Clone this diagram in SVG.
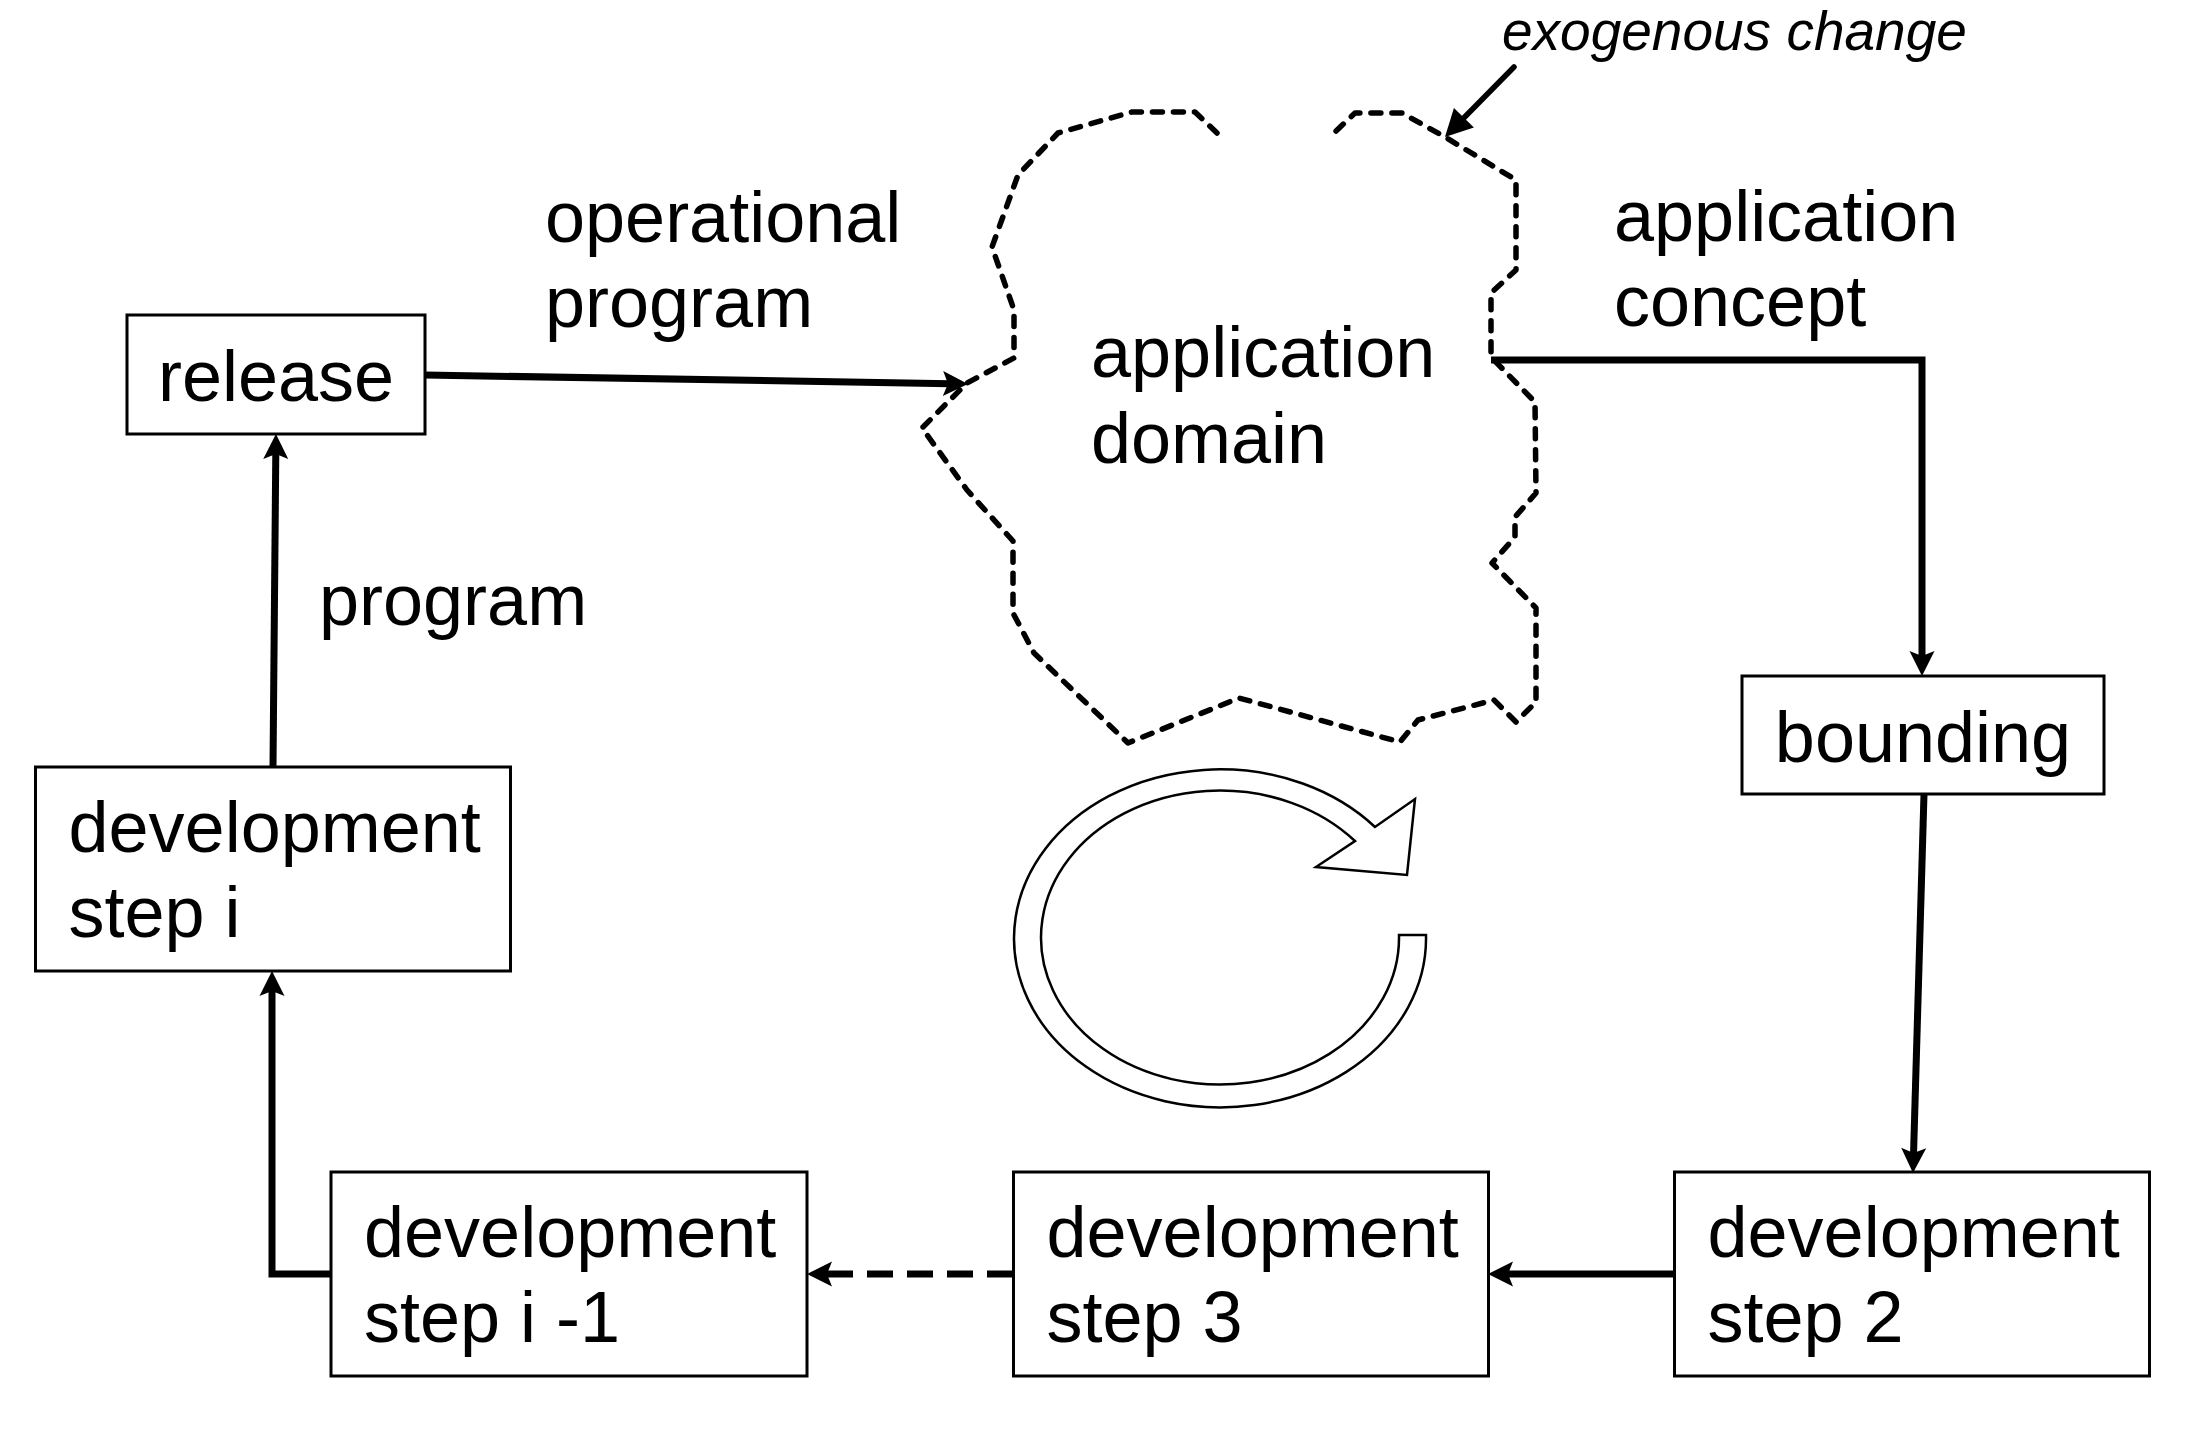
<svg xmlns="http://www.w3.org/2000/svg" width="2197" height="1436" viewBox="0 0 2197 1436">
<defs>
<style>
.box{fill:#fff;stroke:#000;stroke-width:3}
.t{font-family:"Liberation Sans",Arial,sans-serif;font-size:72px;fill:#000}
.ti{font-family:"Liberation Sans",Arial,sans-serif;font-size:55px;font-style:italic;fill:#000}
.c{fill:none;stroke:#000;stroke-width:7}
.cloud{fill:none;stroke:#000;stroke-width:5.5;stroke-dasharray:10 11;stroke-linecap:round;stroke-linejoin:round}
</style>
<marker id="ah" markerUnits="userSpaceOnUse" viewBox="0 0 30 30" markerWidth="30" markerHeight="30" refX="8" refY="15" orient="auto">
<path d="M26,15 L1,2.5 L6,15 L1,27.5 Z" fill="#000"/>
</marker>
<marker id="ah2" markerUnits="userSpaceOnUse" viewBox="0 0 30 30" markerWidth="30" markerHeight="30" refX="10" refY="15" orient="auto">
<path d="M28,15 L1,1 L1,29 Z" fill="#000"/>
</marker>
</defs>
<rect width="2197" height="1436" fill="#fff"/>

<g id="cloud">
<path class="cloud" d="M1217,133 L1195,112 L1132,112 L1058,133 L1018,175 L992,247 L1014,310 L1014,358 L967,383 L922,428 L967,490 L1013,541 L1013,613 L1034,653 L1128,743 L1239,698 L1400,742 L1418,720 L1494,700 L1516,722 L1536,702 L1536,608 L1492,563 L1515,537 L1515,517 L1536,493 L1535,402 L1491,357 L1491,293 L1516,270 L1516,180 L1445,137 L1402,113 L1355,113 L1335,132"/>
<text class="t" x="1091" y="377">application</text>
<text class="t" x="1091" y="463">domain</text>
</g>

<g id="cycle">
<path d="M1426,935 A206,169 0 1 1 1375,827 L1415,799 L1407,875 L1316,867 L1355,841 A179,147 0 1 0 1399,935 Z" fill="#fff" stroke="#000" stroke-width="2.5" stroke-linejoin="miter"/>
</g>

<g id="connectors">
<path class="c" d="M425,375 L950,383.7" marker-end="url(#ah)"/>
<path class="c" d="M1491,360 L1922,360 L1922,658" marker-end="url(#ah)"/>
<path class="c" d="M1924,794 L1913.5,1155" marker-end="url(#ah)"/>
<path class="c" d="M1674,1274 L1506,1274" marker-end="url(#ah)"/>
<path class="c" d="M1013,1274 L825,1274" stroke-dasharray="26 14" marker-end="url(#ah)"/>
<path class="c" d="M331,1274 L272,1274 L272,989" marker-end="url(#ah)"/>
<path class="c" d="M273,767 L275.8,452" marker-end="url(#ah)"/>
<path fill="none" stroke="#000" stroke-width="5.5" stroke-linecap="round" d="M1514,67 L1457.6,124.2" marker-end="url(#ah2)"/>
</g>

<g id="labels">
<text class="t" x="545" y="242">operational</text>
<text class="t" x="545" y="327">program</text>
<text class="t" x="319" y="625">program</text>
<text class="t" x="1614" y="241">application</text>
<text class="t" x="1614" y="326">concept</text>
<text class="ti" x="1502" y="50">exogenous change</text>
</g>

<g id="release">
<rect class="box" x="127" y="315" width="298" height="119"/>
<text class="t" x="276" y="401" text-anchor="middle">release</text>
</g>

<g id="bounding">
<rect class="box" x="1742" y="676" width="362" height="118"/>
<text class="t" x="1923" y="762" text-anchor="middle">bounding</text>
</g>

<g id="dev-step-i">
<rect class="box" x="35.5" y="767" width="475" height="204"/>
<text class="t" x="68.5" y="852">development</text>
<text class="t" x="68.5" y="937">step i</text>
</g>

<g id="dev-step-i-1">
<rect class="box" x="331" y="1172" width="476" height="204"/>
<text class="t" x="364" y="1257">development</text>
<text class="t" x="364" y="1342">step i -1</text>
</g>

<g id="dev-step-3">
<rect class="box" x="1013.5" y="1172" width="475" height="204"/>
<text class="t" x="1046.5" y="1257">development</text>
<text class="t" x="1046.5" y="1342">step 3</text>
</g>

<g id="dev-step-2">
<rect class="box" x="1674.5" y="1172" width="475" height="204"/>
<text class="t" x="1707.5" y="1257">development</text>
<text class="t" x="1707.5" y="1342">step 2</text>
</g>
</svg>
